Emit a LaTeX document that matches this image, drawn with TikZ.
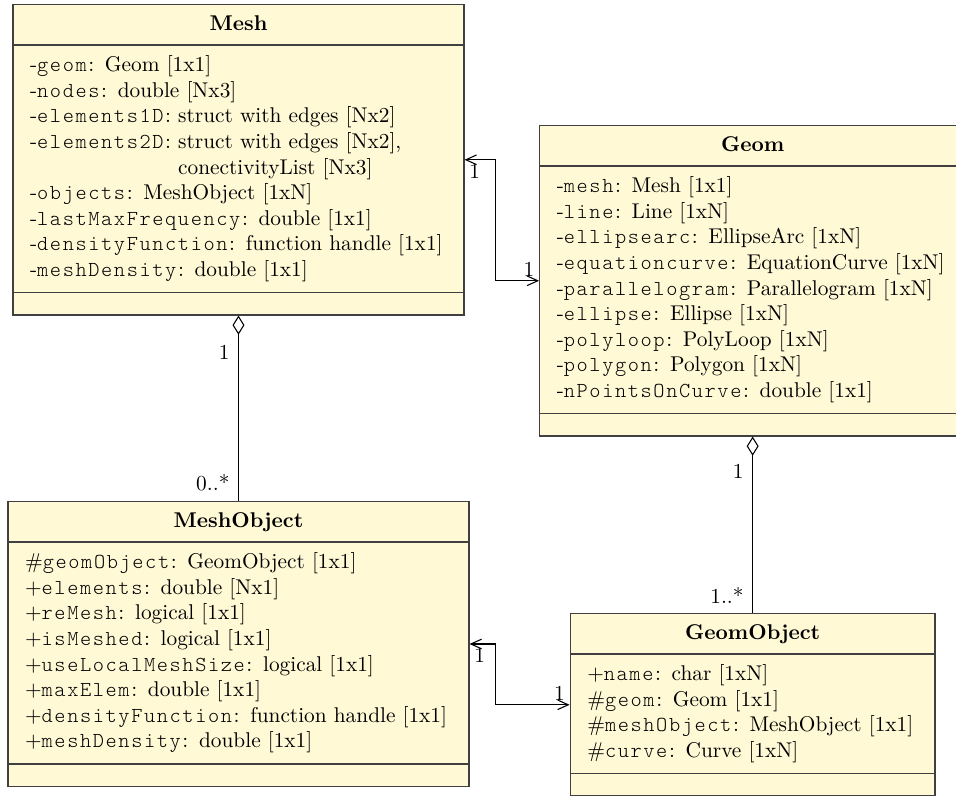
\documentclass[tikz,border=0pt]{standalone}
\usepackage{fontspec}
\setmonofont{lmmonolt10-regular.otf}[LetterSpace=7.5]
\usetikzlibrary{shapes.multipart, arrows.meta}

\definecolor{classfill}{RGB}{255,249,214}
\newcommand{\umlname}[1]{\makebox[\hsize]{\rule[-2pt]{0pt}{8.2pt}\textbf{#1}}}

\tikzset{
  umlclass/.style={rectangle split, rectangle split parts=3, draw=black!75, fill=classfill,
    line width=0.6pt, inner xsep=8pt, inner ysep=4.7pt, align=left, anchor=north},
  assoc/.style={<->, >={Straight Barb[length=5pt,width=4.5pt]}, line width=0.5pt},
  aggr/.style={arrows={Diamond[open,length=9pt,width=5.6pt]-}, line width=0.5pt},
  mult/.style={font=\normalsize, inner sep=2pt}
}

\begin{document}
\begin{tikzpicture}[x=1cm, y=1cm]
  \useasboundingbox (0,0) rectangle (15.75,13.098);

  % classes
  \node[umlclass, text width=6.866cm] (mesh) at (3.929,13.032) {\umlname{Mesh}
    \nodepart{two}
    -\texttt{geom}: Geom [1x1]\\
    -\texttt{nodes}: double [Nx3]\\
    -\texttt{elements1D}: struct with edges [Nx2]\\
    -\texttt{elements2D}: struct with edges [Nx2],\\
    \phantom{-\texttt{elements2D}: }conectivityList [Nx3]\\
    -\texttt{objects}: MeshObject [1xN]\\
    -\texttt{lastMaxFrequency}: double [1x1]\\
    -\texttt{densityFunction}: function handle [1x1]\\
    -\texttt{meshDensity}: double [1x1]
    \nodepart{three}\rule{0pt}{0.5pt}};

  \node[umlclass, text width=6.454cm] (geom) at (12.4,11.039) {\umlname{Geom}
    \nodepart{two}
    -\texttt{mesh}: Mesh [1x1]\\
    -\texttt{line}: Line [1xN]\\
    -\texttt{ellipsearc}: EllipseArc [1xN]\\
    -\texttt{equationcurve}: EquationCurve [1xN]\\
    -\texttt{parallelogram}: Parallelogram [1xN]\\
    -\texttt{ellipse}: Ellipse [1xN]\\
    -\texttt{polyloop}: PolyLoop [1xN]\\
    -\texttt{polygon}: Polygon [1xN]\\
    -\texttt{nPointsOnCurve}: double [1x1]
    \nodepart{three}\rule{0pt}{0.5pt}};

  \node[umlclass, text width=7.031cm] (meshobj) at (3.929,4.844) {\umlname{MeshObject}
    \nodepart{two}
    \#\texttt{geomObject}: GeomObject [1x1]\\
    +\texttt{elements}: double [Nx1]\\
    +\texttt{reMesh}: logical [1x1]\\
    +\texttt{isMeshed}: logical [1x1]\\
    +\texttt{useLocalMeshSize}: logical [1x1]\\
    +\texttt{maxElem}: double [1x1]\\
    +\texttt{densityFunction}: function handle [1x1]\\
    +\texttt{meshDensity}: double [1x1]
    \nodepart{three}\rule{0pt}{0.5pt}};

  \node[umlclass, text width=5.449cm] (geomobj) at (12.4,2.999) {\umlname{GeomObject}
    \nodepart{two}
    +\texttt{name}: char [1xN]\\
    \#\texttt{geom}: Geom [1x1]\\
    \#\texttt{meshObject}: MeshObject [1x1]\\
    \#\texttt{curve}: Curve [1xN]
    \nodepart{three}\rule{0pt}{0.5pt}};

  % associations
  \draw[assoc] (mesh.east) -- ++(0.51,0) |- (geom.west);
  \node[mult, anchor=north west] (meshend) at (mesh.east) {1};
  \node[mult, anchor=south east] (geomend) at (geom.west) {1};

  \draw[assoc] (meshobj.east) -- ++(0.428,0) |- (geomobj.west);
  \node[mult, anchor=north west] (meshobjend) at (meshobj.east) {1};
  \node[mult, anchor=south east] (geomobjend) at (geomobj.west) {1};

  % aggregations
  \draw[aggr] (mesh.south) -- (meshobj.north)
    node[mult, pos=0.2, left=2pt] (meshmult) {1}
    node[mult, pos=0.9, left=2pt] (meshobjmult) {0..*};
  \draw[aggr] (geom.south) -- (geomobj.north)
    node[mult, pos=0.2, left=2pt] (geommult) {1}
    node[mult, pos=0.9, left=2pt] (geomobjmult) {1..*};
\end{tikzpicture}
\end{document}
